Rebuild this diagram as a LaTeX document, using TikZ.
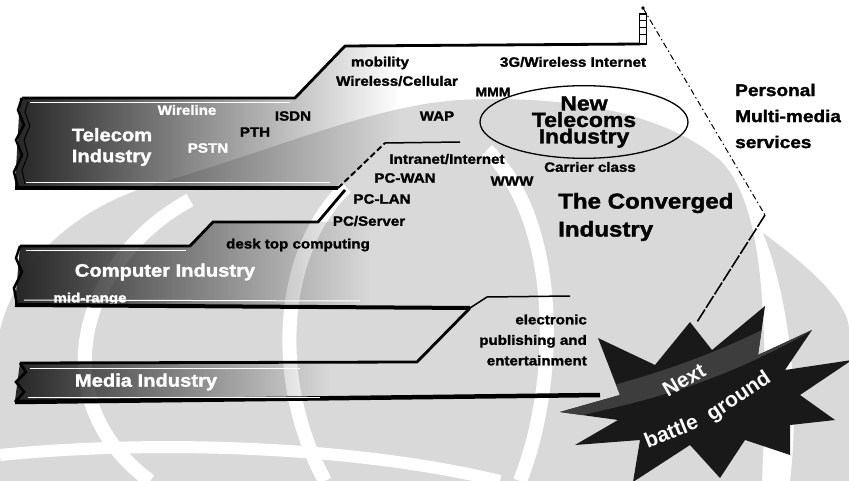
\documentclass[tikz,border=0pt]{standalone}
\usepackage{fontspec}
\setmainfont{Liberation Sans Bold}[FakeStretch=1.12, FakeBold=1.6]
\newfontfamily\starfont{Liberation Sans Bold}
\usetikzlibrary{fadings,shapes.geometric}
\definecolor{wm}{gray}{0.85}
\definecolor{stardark}{gray}{0.1}
\definecolor{swoosh}{gray}{0.24}

\begin{document}
\begin{tikzpicture}[x=1pt,y=-1pt,
  lbl/.style={font=\fontsize{13.5}{16}\selectfont, inner sep=0pt},
  wlbl/.style={lbl, text=white},
  bandtitle/.style={font=\fontsize{18}{21}\selectfont, text=white, inner sep=0pt, align=left},
  bandfill/.style={fill=black!85, path fading=east},
  heavyedge/.style={line width=4pt, line join=round},
  edgeline/.style={line width=2.8pt, line join=round},
  thinline/.style={line width=1.5pt, line join=round},
  startext/.style={text=white, inner sep=0pt, font=\starfont\fontsize{21}{24}\selectfont},
  ]
\useasboundingbox (0,0) rectangle (849,481);
\fill[white] (0,0) rectangle (849,481);

% ---- watermark emblem in the background ----
\fill[wm] (0,481) -- (0,330) .. controls (20,250) and (90,200) .. (170,180)
  .. controls (300,140) and (380,105) .. (460,100)
  .. controls (560,95) and (660,110) .. (720,160)
  .. controls (760,200) and (770,300) .. (762,481) -- cycle;
\fill[wm] (763,233) .. controls (800,260) and (849,300) .. (849,330)
  -- (849,481) -- (790,481) .. controls (800,400) and (790,300) .. (763,233) -- cycle;
\draw[white, line width=14pt] (346,187) .. controls (280,250) and (270,380) .. (325,481);
\draw[white, line width=14pt] (487,150) .. controls (560,220) and (560,380) .. (520,481);
\draw[white, line width=14pt] (190,200) .. controls (80,260) and (40,400) .. (150,481);
\draw[white, line width=12pt] (0,455) .. controls (150,440) and (350,445) .. (500,481);

% ---- industry bands: faded fills ----
\fill[bandfill] (20,98) -- (295,98) -- (345,46) -- (400,46) -- (400,143)
  -- (385,143) -- (340,188) -- (15,188) -- cycle;
\fill[bandfill] (20,246) -- (190,246) -- (213,222) -- (370,222) -- (370,305)
  -- (15,305) -- cycle;
\fill[bandfill] (20,363) -- (330,363) -- (330,401) -- (15,401) -- cycle;

% ---- labels inside the telecom band ----
\node[bandtitle] (telecom) at (112,147) {Telecom\\Industry};
\node[wlbl] (wireline) at (187,110) {Wireline};
\node[lbl] (isdn) at (293,116) {ISDN};
\node[lbl] (pth) at (255,132) {PTH};
\node[wlbl] (pstn) at (208,148) {PSTN};

% ---- labels of the mobile path ----
\node[lbl] (mobility) at (380,63) {mobility};
\node[lbl] (cellular) at (397,81) {Wireless/Cellular};
\node[lbl, font=\fontsize{12.5}{14}\selectfont] (mmm) at (493,92) {MMM};
\node[lbl] (wap) at (437,116) {WAP};
\node[lbl] (wireless3g) at (573,62) {3G/Wireless Internet};

% ---- new telecoms industry ----
\node[draw, line width=1.3pt, ellipse, minimum width=208pt, minimum height=60pt,
  inner sep=0pt, align=center, font=\fontsize{20.5}{16.5}\selectfont]
  (newtel) at (584,122) {New\\Telecoms\\Industry};
\node[lbl] (carrier) at (590,167) {Carrier class};
\node[lbl] (www) at (512,181) {WWW};

% ---- labels of the computing path ----
\node[lbl] (intranet) at (447,159) {Intranet/Internet};
\node[lbl] (pcwan) at (405,178) {PC-WAN};
\node[lbl] (pclan) at (382,199) {PC-LAN};
\node[lbl] (pcserver) at (369,221) {PC/Server};
\node[lbl] (desktop) at (298,245) {desk top computing};
\node[bandtitle] (computer) at (165,272) {Computer Industry};
\node[wlbl] (midrange) at (90,299) {mid-range};

% ---- media ----
\node[bandtitle] (media) at (146,382) {Media Industry};
\node[lbl, anchor=east, align=right, font=\fontsize{13.5}{20.5}\selectfont]
  (epub) at (587,340) {electronic\\publishing and\\entertainment};

% ---- converged industry and services ----
\node[anchor=west, align=left, inner sep=0pt, font=\fontsize{21.5}{28}\selectfont]
  (converged) at (558,217) {The Converged\\Industry};
\node[anchor=west, align=left, inner sep=0pt, font=\fontsize{17}{26}\selectfont]
  (personal) at (735,116) {Personal\\Multi-media\\services};

% ---- band outlines ----
% telecom
\draw[edgeline] (22,98) -- (295,98) -- (345,46) -- (640,44);
\draw[heavyedge] (15,188) -- (338,188);
\draw[line width=2pt, dash pattern=on 6pt off 3pt] (338,188) -- (385,143);
\draw[thinline] (385,143) -- (460,142);
\draw[line width=2.5pt] (22,98) -- (18,110) -- (24,125) -- (16,140) -- (22,155) -- (14,172) -- (18,188);
\draw[line width=1pt] (28,102) -- (25,112) -- (30,126) -- (24,140) -- (28,155) -- (22,170) -- (25,184);
\draw[white, line width=1pt] (30,103) -- (290,103);
\draw[white, line width=1pt] (26,183) -- (330,183);
% computer
\draw[edgeline] (20,246) -- (190,246) -- (213,222) -- (318,222) -- (345,190);
\draw[heavyedge] (15,305) -- (470,308);
\draw[thinline] (470,308) -- (487,297) -- (570,296);
\draw[line width=2.5pt] (20,246) -- (16,258) -- (22,272) -- (14,288) -- (17,305);
\draw[white, line width=1pt] (26,251) -- (186,251);
\draw[white, line width=1pt] (24,300) -- (360,301);
% media
\draw[edgeline] (20,363) -- (417,362) -- (470,308);
\draw[line width=4.5pt] (15,402) -- (600,395);
\draw[line width=2.5pt] (20,363) -- (26,372) -- (16,382) -- (24,392) -- (15,402);
\draw[white, line width=1pt] (30,368) -- (300,368);
\draw[white, line width=1pt] (28,397) -- (320,397);

% ---- mast and the line to the battle ground ----
\coordinate (mast) at (643,8);
\coordinate (kink) at (765,215);
\coordinate (startip) at (697,322);
\draw[line width=1.5pt] (639.5,14) rectangle (646.5,44);
\foreach \yy in {21,28,35} \draw[line width=1pt] (639.5,\yy) -- (646.5,\yy);
\fill (mast) circle (1.8pt);
\draw[line width=1pt, dash pattern=on 6pt off 3pt on 1.5pt off 3pt] (mast) -- (kink);
\draw[line width=1.6pt, dash pattern=on 14pt off 2pt] (kink) -- (startip);

% ---- next battle ground star ----
\def\starpath{(560,412) -- (620,395) -- (598,338) -- (655,365) -- (690,322)
  -- (712,350) -- (765,306) -- (758,355) -- (812,330) -- (785,370) -- (852,360)
  -- (800,395) -- (835,420) -- (790,425) -- (790,455) -- (745,440) -- (720,478)
  -- (690,445) -- (633,482) -- (640,440) -- (575,445) -- (618,420) -- cycle}
\fill[stardark] \starpath;
\begin{scope}
  \clip \starpath;
  \fill[swoosh] (560,420) .. controls (650,400) and (720,385) .. (830,320)
    -- (825,298) .. controls (720,355) and (650,378) .. (560,398) -- cycle;
\end{scope}
\node[startext, rotate=30] (next) at (684,380) {Next};
\node[startext, rotate=22] (battle) at (671,431) {battle};
\node[startext, rotate=34] (ground) at (739,397) {ground};
\end{tikzpicture}
\end{document}
